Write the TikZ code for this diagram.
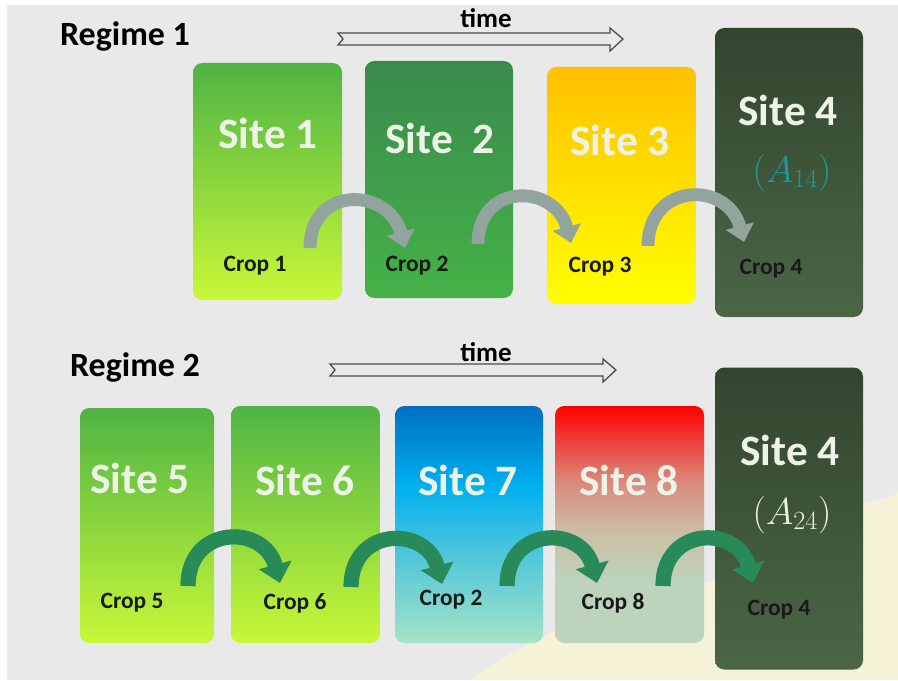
\RequirePackage{fix-cm}
\documentclass[tikz,border=0pt]{standalone}
\usepackage{fontspec}
\setmainfont{Carlito}
\usepackage{tikz}
\usetikzlibrary{arrows.meta}

\definecolor{bggray}{HTML}{E9E9E9}
\definecolor{haze}{HTML}{F8F5D4}
\definecolor{limeA}{HTML}{4FB444}
\definecolor{limeB}{HTML}{C8F838}
\definecolor{grnA}{HTML}{3A8A4E}
\definecolor{grnB}{HTML}{0CB04B}
\definecolor{grnC}{HTML}{45B246}
\definecolor{ambA}{HTML}{FFC000}
\definecolor{ambB}{HTML}{FFFF00}
\definecolor{darkA}{HTML}{33452F}
\definecolor{darkB}{HTML}{496243}
\definecolor{darkC}{HTML}{4A6645}
\definecolor{bluA}{HTML}{0070C0}
\definecolor{bluB}{HTML}{00B0F0}
\definecolor{bluC}{HTML}{48C4DC}
\definecolor{bluD}{HTML}{A6E4C6}
\definecolor{redA}{HTML}{FF0000}
\definecolor{redB}{HTML}{D98A7C}
\definecolor{redC}{HTML}{CBC0A6}
\definecolor{redD}{HTML}{BDD3BB}
\definecolor{sitewhite}{HTML}{EEF3E8}
\definecolor{tealtxt}{HTML}{1E9A9E}
\definecolor{hopgray}{HTML}{93A39E}
\definecolor{hopgreen}{HTML}{288A58}

% shadings for the two multi-coloured sites
\pgfdeclareverticalshading{siteblue}{100bp}{color(0bp)=(bluD); color(25bp)=(bluD);
  color(45bp)=(bluC); color(58bp)=(bluB); color(75bp)=(bluA); color(100bp)=(bluA)}
\pgfdeclareverticalshading{sitered}{100bp}{color(0bp)=(redD); color(25bp)=(redD);
  color(38bp)=(redD); color(48bp)=(redC); color(59bp)=(redB); color(75bp)=(redA); color(100bp)=(redA)}

\tikzstyle{sitebox} = [rounded corners=8pt, inner sep=0pt]
\tikzstyle{sz} = [minimum width=#1*0.03cm]
\tikzstyle{ht} = [minimum height=#1*0.03cm]
\tikzstyle{sitelbl} = [text=sitewhite, font=\fontsize{37}{40}\selectfont\bfseries]
\tikzstyle{arealbl} = [font=\fontsize{32}{34}\selectfont]
\tikzstyle{croplbl} = [text=black!90, font=\fontsize{20}{22}\selectfont\bfseries]
\tikzstyle{regime} = [font=\fontsize{29}{32}\selectfont\bfseries]
\tikzstyle{timelbl} = [font=\fontsize{23}{25}\selectfont\bfseries]
\tikzstyle{timearr} = [draw=black!70, line width=1.1pt, fill=bggray, line join=miter]
\tikzstyle{hop} = [line width=11pt, looseness=1.7, -{Triangle[length=14pt,width=24pt]}]
\tikzstyle{hopwide} = [line width=13pt, looseness=1.7, -{Triangle[length=16pt,width=28pt]}]

\begin{document}
\begin{tikzpicture}[x=0.03cm, y=-0.03cm]

\useasboundingbox (0,0) rectangle (898,681);
\fill[bggray] (7,5) rectangle (898,680);
\fill[haze, opacity=0.8] (470,680) .. controls (540,630) and (620,600) .. (700,585)
  .. controls (780,560) and (820,520) .. (860,505)
  .. controls (880,498) and (890,500) .. (898,492) -- (898,680) -- cycle;

% regime 1
\node[regime] (reg1) at (125,36) {Regime 1};
\node[timelbl] (time1) at (486,18) {time};
\draw[timearr] (338,33) -- (610,33) -- (610,28) -- (623,39) -- (610,51)
  -- (610,45) -- (338,45) -- (343,39) -- cycle;

\node[sitebox, sz=149, ht=237, top color=limeA, bottom color=limeB] (s1) at (267.5,181.5) {};
\node[sitebox, sz=148, ht=237, top color=grnA, middle color=grnB, bottom color=grnC] (s2) at (439,179.5) {};
\node[sitebox, sz=149, ht=237, top color=ambA, bottom color=ambB] (s3) at (621.5,185.5) {};
\node[sitebox, sz=148, ht=289, top color=darkA, middle color=darkB, bottom color=darkC] (s4a) at (789,172.5) {};

\node[sitelbl] (t1) at (268,133) {Site 1};
\node[sitelbl] (t2) at (440,138) {Site\ \ 2};
\node[sitelbl] (t3) at (620,140) {Site 3};
\node[sitelbl] (t4a) at (788,110) {Site 4};
\node[arealbl, text=tealtxt] (m4a) at (792,173) {$(A_{14})$};

\foreach \nm/\x/\y/\t in {c1/255/266/1, c2/417/266/2, c3/600/267/3, c4/771/269/4}
  \node[croplbl] (\nm) at (\x,\y) {Crop \t};

%curved hops, grey
\foreach \a/\xa/\ya/\xb/\yb in {1/310/248/405/248, 2/478/244/571/243, 3/648/246/744/242}
{
  \coordinate (h\a s) at (\xa,\ya);
  \coordinate (h\a e) at (\xb,\yb);
  \draw[hop, hopgray] (h\a s) to[out=90, in=105] (h\a e);
}

% regime 2
\node[regime] (reg2) at (135,367) {Regime 2};
\node[timelbl] (time2) at (486,352) {time};
\draw[timearr] (330,364) -- (603,364) -- (603,359) -- (616,370) -- (603,382)
  -- (603,376) -- (330,376) -- (335,370) -- cycle;

\node[sitebox, sz=134, ht=235, top color=limeA, bottom color=limeB] (s5) at (147,525.5) {};
\node[sitebox, sz=149, ht=237, top color=limeA, bottom color=limeB] (s6) at (305.5,524.5) {};
\node[sitebox, sz=148, ht=237, shading=siteblue] (s7) at (469,524.5) {};
\node[sitebox, sz=149, ht=237, shading=sitered] (s8) at (629.5,524.5) {};
\node[sitebox, sz=148, ht=302, top color=darkA, middle color=darkB, bottom color=darkC] (s4b) at (789,518.5) {};

\node[sitelbl] (t5) at (140,478) {Site 5};
\node[sitelbl] (t6) at (305,480) {Site 6};
\node[sitelbl] (t7) at (468,480) {Site 7};
\node[sitelbl] (t8) at (629,480) {Site 8};
\node[sitelbl] (t4b) at (790,450) {Site 4};
\node[arealbl, text=sitewhite] (m4b) at (792,515) {$(A_{24})$};

\foreach \nm/\x/\y/\t in {c5/132/603/5, c6/295/603/6, c7/451/600/2, c8/613/603/8, c9/779/610/4}
  \node[croplbl] (\nm) at (\x,\y) {Crop \t};

%curved hops, green
\foreach \a/\xa/\ya/\xb/\yb in {4/188/586/280/583, 5/351/587/442/584, 6/507/586/597/583, 7/663/586/753/583}
{
  \coordinate (h\a s) at (\xa,\ya);
  \coordinate (h\a e) at (\xb,\yb);
  \draw[hopwide, hopgreen] (h\a s) to[out=90, in=105] (h\a e);
}

\end{tikzpicture}
\end{document}
